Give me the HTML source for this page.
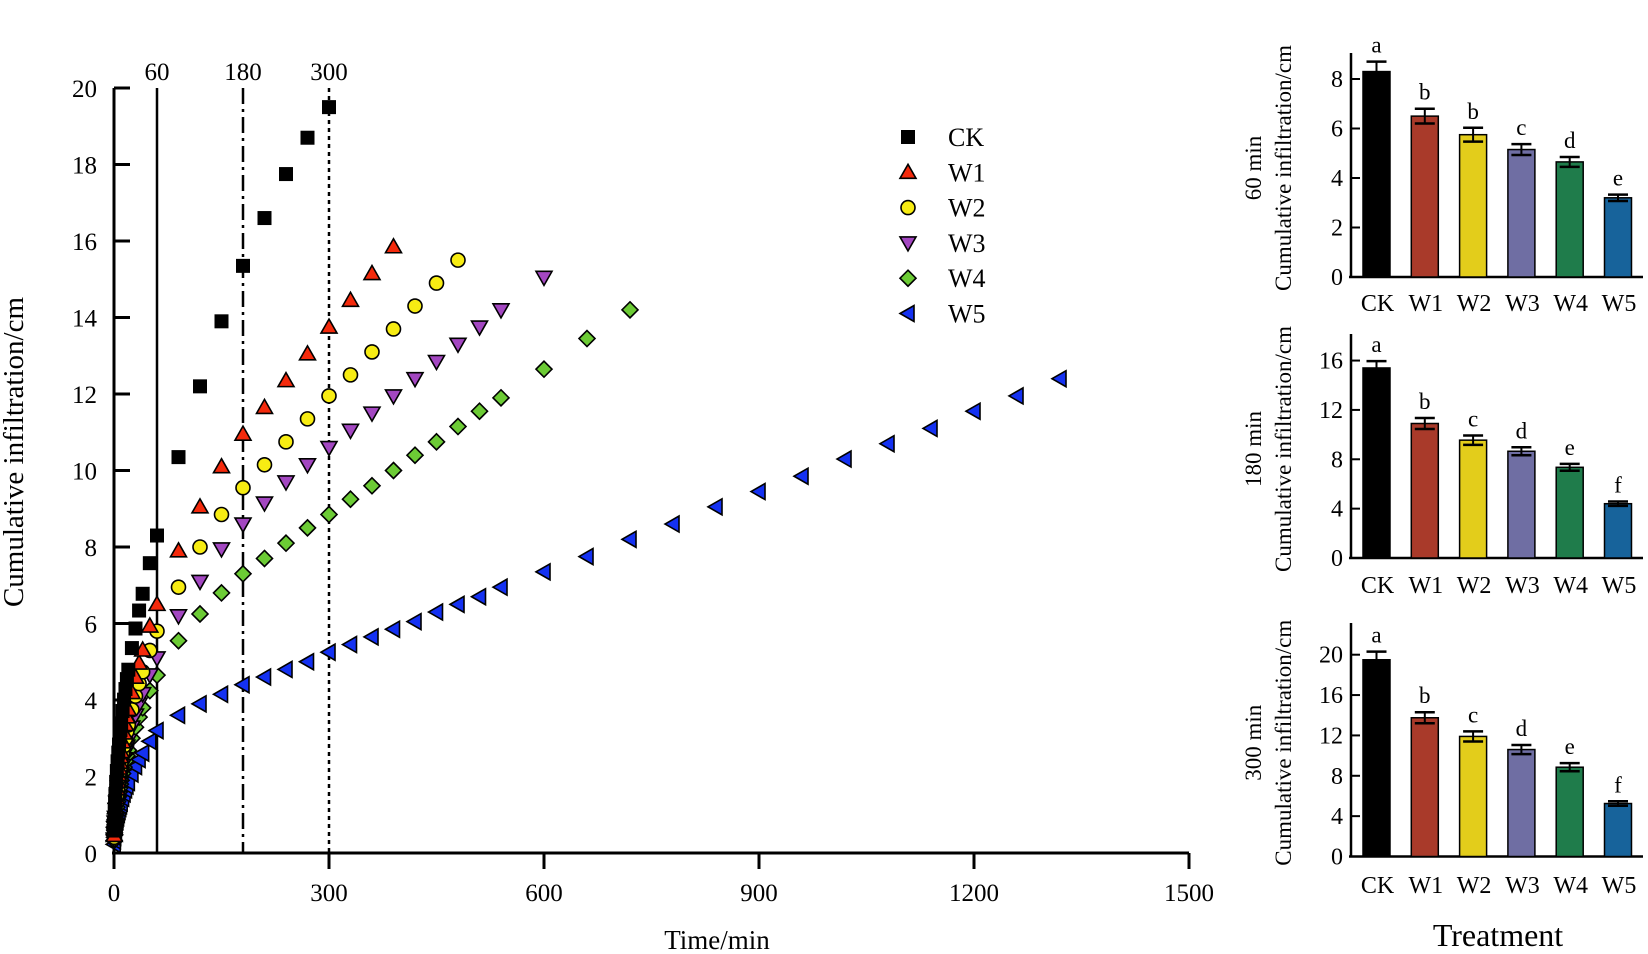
<!DOCTYPE html>
<html><head><meta charset="utf-8"><style>
html,body{margin:0;padding:0;background:#fff;}
svg{display:block;font-family:"Liberation Serif",serif;}
</style></head><body>
<svg id="s" width="1648" height="954" viewBox="0 0 1648 954" xmlns="http://www.w3.org/2000/svg"></svg>
<script>
(function(){
var s=document.getElementById('s'),h='';
function X(t){return 114+t*215/300;}
function Y(v){return 853-v*38.25;}
h+='<line x1="114" y1="88" x2="114" y2="855" stroke="#000" stroke-width="3"/>';
h+='<line x1="112" y1="853" x2="1189" y2="853" stroke="#000" stroke-width="3"/>';
for(var i=0;i<=10;i++){var y=Y(i*2);h+='<line x1="114" y1="'+y+'" x2="130" y2="'+y+'" stroke="#000" stroke-width="3"/>';h+='<text x="97" y="'+(y+9)+'" font-size="25" text-anchor="end">'+(i*2)+'</text>';}
for(var i=0;i<=5;i++){var x=X(i*300);h+='<line x1="'+x+'" y1="853" x2="'+x+'" y2="869" stroke="#000" stroke-width="3"/>';h+='<text x="'+x+'" y="901" font-size="25" text-anchor="middle">'+(i*300)+'</text>';}
h+='<line x1="'+X(60)+'" y1="88" x2="'+X(60)+'" y2="853" stroke="#000" stroke-width="2.5"/>';
h+='<line x1="'+X(180)+'" y1="88" x2="'+X(180)+'" y2="853" stroke="#000" stroke-width="2.5" stroke-dasharray="16,5,3,5"/>';
h+='<line x1="'+X(300)+'" y1="88" x2="'+X(300)+'" y2="853" stroke="#000" stroke-width="2.5" stroke-dasharray="4,4"/>';
h+='<text x="'+X(60)+'" y="80" font-size="25" text-anchor="middle">60</text>';
h+='<text x="'+X(180)+'" y="80" font-size="25" text-anchor="middle">180</text>';
h+='<text x="'+X(300)+'" y="80" font-size="25" text-anchor="middle">300</text>';
h+='<text transform="translate(23,452) rotate(-90)" font-size="29" text-anchor="middle">Cumulative infiltration/cm</text>';
h+='<text x="717" y="949" font-size="27" text-anchor="middle">Time/min</text>';
function mk(type,x,y,c){
 var r=7;
 if(type==0) return '<rect x="'+(x-r)+'" y="'+(y-r)+'" width="'+(2*r)+'" height="'+(2*r)+'" fill="#000"/>';
 if(type==1) return '<polygon points="'+x+','+(y-r-1)+' '+(x+r+1)+','+(y+r-1)+' '+(x-r-1)+','+(y+r-1)+'" fill="'+c+'" stroke="#000" stroke-width="1.6"/>';
 if(type==2) return '<circle cx="'+x+'" cy="'+y+'" r="'+r+'" fill="'+c+'" stroke="#000" stroke-width="1.6"/>';
 if(type==3) return '<polygon points="'+x+','+(y+r+1)+' '+(x+r+1)+','+(y-r+1)+' '+(x-r-1)+','+(y-r+1)+'" fill="'+c+'" stroke="#000" stroke-width="1.6"/>';
 if(type==4) return '<polygon points="'+x+','+(y-r-1)+' '+(x+r+1)+','+y+' '+x+','+(y+r+1)+' '+(x-r-1)+','+y+'" fill="'+c+'" stroke="#000" stroke-width="1.6"/>';
 return '<polygon points="'+(x-r-1)+','+y+' '+(x+r-1)+','+(y-r-1)+' '+(x+r-1)+','+(y+r+1)+'" fill="'+c+'" stroke="#000" stroke-width="1.6"/>';
}
var cols=['#000','#f42a0c','#f7ec13','#a347c1','#6ccb35','#1431f2'];
var late=[
[[90,10.35],[120,12.2],[150,13.9],[180,15.35],[210,16.6],[240,17.75],[270,18.7],[300,19.5]],
[[90,7.9],[120,9.05],[150,10.1],[180,10.95],[210,11.65],[240,12.35],[270,13.05],[300,13.75],[330,14.45],[360,15.15],[390,15.85]],
[[90,6.95],[120,8.0],[150,8.85],[180,9.55],[210,10.15],[240,10.75],[270,11.35],[300,11.95],[330,12.5],[360,13.1],[390,13.7],[420,14.3],[450,14.9],[480,15.5]],
[[90,6.2],[120,7.1],[150,7.95],[180,8.6],[210,9.15],[240,9.7],[270,10.15],[300,10.6],[330,11.05],[360,11.5],[390,11.95],[420,12.4],[450,12.85],[480,13.3],[510,13.75],[540,14.2],[600,15.05]],
[[90,5.55],[120,6.25],[150,6.8],[180,7.3],[210,7.7],[240,8.1],[270,8.5],[300,8.85],[330,9.25],[360,9.6],[390,10.0],[420,10.4],[450,10.75],[480,11.15],[510,11.55],[540,11.9],[600,12.65],[660,13.45],[720,14.2]],
[[90,3.6],[120,3.9],[150,4.15],[180,4.4],[210,4.6],[240,4.8],[270,5.0],[300,5.25],[330,5.45],[360,5.65],[390,5.85],[420,6.05],[450,6.3],[480,6.5],[510,6.7],[540,6.95],[600,7.35],[660,7.75],[720,8.2],[780,8.6],[840,9.05],[900,9.45],[960,9.85],[1020,10.3],[1080,10.7],[1140,11.1],[1200,11.55],[1260,11.95],[1320,12.4]]];
var v60=[8.3,6.5,5.8,5.1,4.65,3.2];
var early=[0.3,0.6,1,1.5,2,3,4,5,6,7,8,9,10,12,14,16,18,20,25,30,35,40,50,60];
for(var k=5;k>=0;k--){
 for(var j=0;j<early.length;j++){var t=early[j];var v=v60[k]*Math.pow(t/60,0.5);h+=mk(k,X(t),Y(v),cols[k]);}
 for(var j=0;j<late[k].length;j++){h+=mk(k,X(late[k][j][0]),Y(late[k][j][1]),cols[k]);}
}
var names=['CK','W1','W2','W3','W4','W5'];
for(var k=0;k<6;k++){var y=137+k*35.3;h+=mk(k,908,y,cols[k]);h+='<text x="948" y="'+(y+9)+'" font-size="26">'+names[k]+'</text>';}
var bc=['#000','#a93a2a','#e3cd1b','#6f6ea3','#1f7c4b','#17639b'];
var P=[
{z:277,s:24.75,tp:53,step:2,max:8,lab:'60 min',v:[8.3,6.5,5.75,5.15,4.65,3.2],e:[.4,.3,.28,.22,.2,.13],L:['a','b','b','c','d','e'],cat:311},
{z:558,s:12.34,tp:334,step:4,max:16,lab:'180 min',v:[15.4,10.9,9.55,8.65,7.35,4.4],e:[.55,.45,.38,.32,.28,.18],L:['a','b','c','d','e','f'],cat:593},
{z:856.5,s:10.09,tp:623,step:4,max:20,lab:'300 min',v:[19.5,13.75,11.9,10.6,8.85,5.25],e:[.8,.55,.5,.45,.4,.22],L:['a','b','c','d','e','f'],cat:893}];
for(var p=0;p<3;p++){var P0=P[p];
 h+='<line x1="1351" y1="'+P0.tp+'" x2="1351" y2="'+(P0.z+1)+'" stroke="#000" stroke-width="2.5"/>';
 h+='<line x1="1349" y1="'+P0.z+'" x2="1643" y2="'+P0.z+'" stroke="#000" stroke-width="2.5"/>';
 for(var v=0;v<=P0.max;v+=P0.step){var y=P0.z-v*P0.s;h+='<line x1="1351" y1="'+y+'" x2="1360" y2="'+y+'" stroke="#000" stroke-width="2"/>';h+='<text x="1343" y="'+(y+8)+'" font-size="24" text-anchor="end">'+v+'</text>';}
 for(var k=0;k<6;k++){var x0=1363+k*48.3,cx=x0+13.5,tp=P0.z-P0.v[k]*P0.s,eh=P0.e[k]*P0.s;
  h+='<rect x="'+x0+'" y="'+tp+'" width="27" height="'+(P0.z-tp)+'" fill="'+bc[k]+'" stroke="#000" stroke-width="1.5"/>';
  h+='<line x1="'+cx+'" y1="'+(tp-eh)+'" x2="'+cx+'" y2="'+(tp+eh)+'" stroke="#000" stroke-width="2"/>';
  h+='<line x1="'+(cx-10)+'" y1="'+(tp-eh)+'" x2="'+(cx+10)+'" y2="'+(tp-eh)+'" stroke="#000" stroke-width="2.5"/>';
  h+='<line x1="'+(cx-10)+'" y1="'+(tp+eh)+'" x2="'+(cx+10)+'" y2="'+(tp+eh)+'" stroke="#000" stroke-width="2.5"/>';
  h+='<text x="'+cx+'" y="'+(tp-eh-9)+'" font-size="23" text-anchor="middle">'+P0.L[k]+'</text>';
  h+='<text x="'+(cx+1)+'" y="'+P0.cat+'" font-size="24" text-anchor="middle">'+names[k]+'</text>';}
 var my=(P0.tp+P0.z)/2+3;
 h+='<text transform="translate(1261,'+my+') rotate(-90)" font-size="23" text-anchor="middle">'+P0.lab+'</text>';
 h+='<text transform="translate(1291,'+my+') rotate(-90)" font-size="23" text-anchor="middle">Cumulative infiltration/cm</text>';
}
h+='<text x="1498" y="946" font-size="32" text-anchor="middle">Treatment</text>';
s.innerHTML=h;
})();
</script>
</body></html>
